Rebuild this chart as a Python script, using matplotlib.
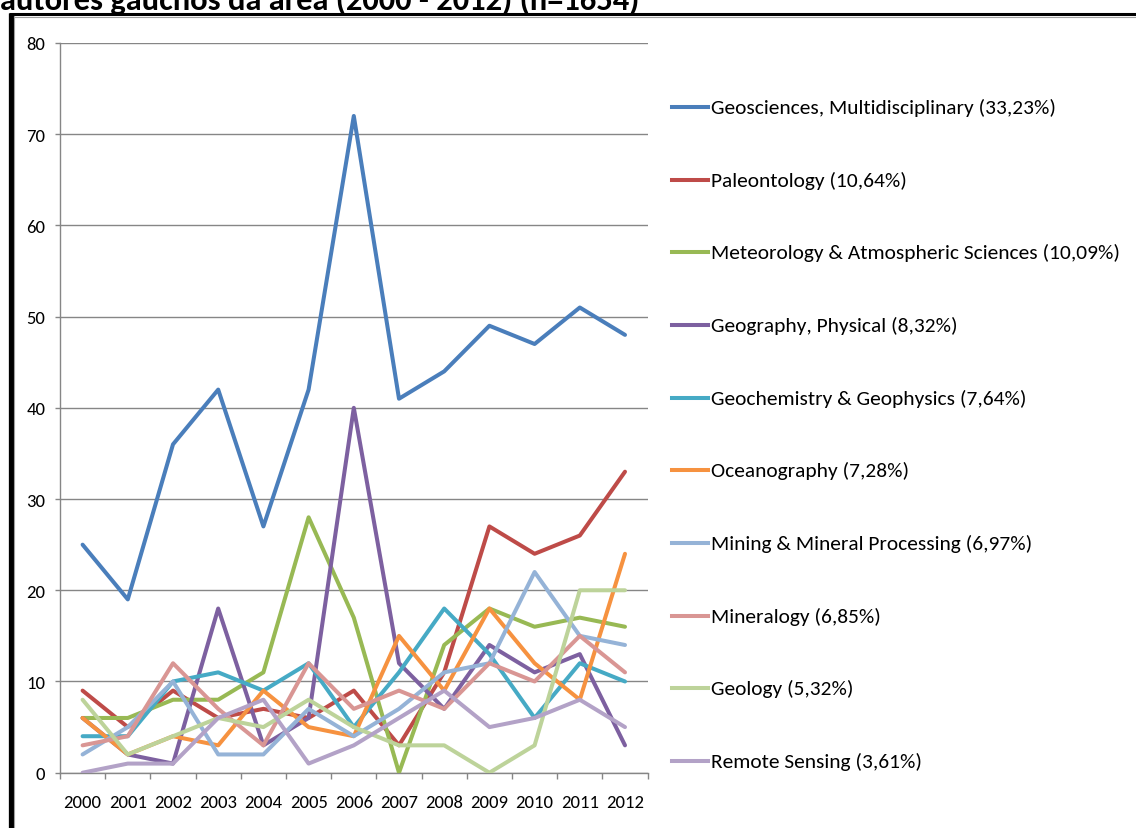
import matplotlib
matplotlib.use("Agg")
import matplotlib.pyplot as plt
from matplotlib.lines import Line2D
from matplotlib import font_manager
import numpy as np

W, H = 1136, 829

years = ["2000", "2001", "2002", "2003", "2004", "2005", "2006",
         "2007", "2008", "2009", "2010", "2011", "2012"]

geosciences = [25, 19, 36, 42, 27, 42, 72, 41, 44, 49, 47, 51, 48]
paleontology = [9, 5, 9, 6, 7, 6, 9, 3, 11, 27, 24, 26, 33]
meteorology = [6, 6, 8, 8, 11, 28, 17, 0, 14, 18, 16, 17, 16]
geography = [6, 2, 1, 18, 3, 6, 40, 12, 7, 14, 11, 13, 3]
geochemistry = [4, 4, 10, 11, 9, 12, 5, 11, 18, 13, 6, 12, 10]
oceanography = [6, 2, 4, 3, 9, 5, 4, 15, 9, 18, 12, 8, 24]
mining = [2, 5, 10, 2, 2, 7, 4, 7, 11, 12, 22, 15, 14]
mineralogy = [3, 4, 12, 7, 3, 12, 7, 9, 7, 12, 10, 15, 11]
geology = [8, 2, 4, 6, 5, 8, 5, 3, 3, 0, 3, 20, 20]
remote_sensing = [0, 1, 1, 6, 8, 1, 3, 6, 9, 5, 6, 8, 5]

labels = [
    "Geosciences, Multidisciplinary (33,23%)",
    "Paleontology (10,64%)",
    "Meteorology & Atmospheric Sciences (10,09%)",
    "Geography, Physical (8,32%)",
    "Geochemistry & Geophysics (7,64%)",
    "Oceanography (7,28%)",
    "Mining & Mineral Processing (6,97%)",
    "Mineralogy (6,85%)",
    "Geology (5,32%)",
    "Remote Sensing (3,61%)",
]
series = [geosciences, paleontology, meteorology, geography, geochemistry,
          oceanography, mining, mineralogy, geology, remote_sensing]
colors = ["#4A7EBB", "#BE4B48", "#98B954", "#7D60A0", "#46AAC5",
          "#F69240", "#95B3D7", "#D99694", "#BDD39A", "#B3A2C7"]

title = "autores gaúchos da área (2000 - 2012) (n=1654)"

available = {f.name for f in font_manager.fontManager.ttflist}
family = "DejaVu Sans"
for cand in ["Carlito", "Liberation Sans Narrow", "Lato", "Open Sans", "Liberation Sans"]:
    if cand in available:
        family = cand
        break
plt.rcParams["font.family"] = [family, "DejaVu Sans"]

fig = plt.figure(figsize=(W / 100, H / 100), dpi=100)
fig.patch.set_facecolor("white")
renderer = fig.canvas.get_renderer()


def fit_size(text, target_px, weight="normal", base=20.0):
    t = fig.text(0, 0, text, fontsize=base, fontweight=weight)
    w = t.get_window_extent(renderer).width
    t.remove()
    return base * target_px / w


def fx(px):
    return px / W


def fy(py):
    return 1 - py / H


tick_fs = fit_size("2000", 38)
leg_fs = fit_size(labels[0], 344)
title_fs = fit_size(title, 640, weight="bold")

ax_l, ax_r, ax_t, ax_b = 60, 647.6, 44, 773.7
ax = fig.add_axes([fx(ax_l), fy(ax_b), fx(ax_r - ax_l), (ax_b - ax_t) / H])

x = np.arange(len(years))
for vals, c in zip(series, colors):
    ax.plot(x, vals, color=c, lw=2.9, solid_joinstyle="round",
            solid_capstyle="round", zorder=3)

grey = "#868686"
ax.set_xlim(-0.5, len(years) - 0.5)
ax.set_ylim(0, 80)
ax.set_yticks(np.arange(0, 81, 10))
ax.yaxis.grid(True, color=grey, lw=1.0)
ax.set_axisbelow(True)
for s in ["top", "right"]:
    ax.spines[s].set_visible(False)
for s in ["left", "bottom"]:
    ax.spines[s].set_color(grey)
    ax.spines[s].set_linewidth(1.0)
ax.tick_params(axis="y", length=3.6, width=1.0, color=grey, pad=7,
               labelsize=tick_fs, labelcolor="black")
ax.set_xticks(x)
ax.set_xticklabels(years)
ax.set_xticks(np.arange(-0.5, len(years), 1.0), minor=True)
ax.tick_params(axis="x", which="major", length=0, pad=15,
               labelsize=tick_fs, labelcolor="black")
ax.tick_params(axis="x", which="minor", length=4.5, width=1.0, color=grey)

# legend rows
y0, dy = 108, 72.67
for i, (lab, c) in enumerate(zip(labels, colors)):
    yy = y0 + i * dy
    fig.add_artist(Line2D([fx(672), fx(708)], [fy(yy), fy(yy)], color=c, lw=2.9,
                          transform=fig.transFigure))
    fig.text(fx(711), fy(yy), lab, fontsize=leg_fs, va="center", ha="left",
             color="black")

# outer frame
fig.add_artist(Line2D([fx(10.5), fx(10.5)], [fy(14), 0], color="black", lw=3.8,
                      transform=fig.transFigure, solid_capstyle="butt"))
fig.add_artist(Line2D([fx(8.6), 1], [fy(15.3), fy(15.3)], color="black", lw=2.2,
                      transform=fig.transFigure, solid_capstyle="butt"))
fig.add_artist(Line2D([fx(14), fx(14)], [fy(17), 0], color="#A0A0A0", lw=0.8,
                      transform=fig.transFigure))
fig.add_artist(Line2D([fx(14), 1], [fy(17.5), fy(17.5)], color="#A0A0A0", lw=0.8,
                      transform=fig.transFigure))

# title, cut off at the top edge as in the source image
fig.text(fx(0), fy(10), title, fontsize=title_fs, fontweight="bold", ha="left",
         va="baseline", color="black")

fig.savefig("out.png", dpi=100)
